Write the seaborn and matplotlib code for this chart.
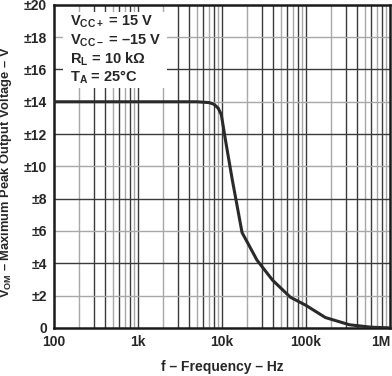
import numpy as np
import pandas as pd
import seaborn as sns
import matplotlib.pyplot as plt

# values
freq_hz = [100, 1000, 5000, 7000, 8000, 9000, 9800, 11000, 13200, 17300,
           20000, 26000, 40000, 65000, 100000, 170000, 330000, 600000, 1000000]
vom_v = [14, 14, 14, 13.95, 13.85, 13.6, 13.2, 11.6, 9.2, 5.9,
         5.3, 4.2, 2.95, 1.9, 1.39, 0.64, 0.19, 0.04, 0]
x_ticks = [100, 1000, 10000, 100000, 1000000]
x_labels = ["100", "1k", "10k", "100k", "1M"]
y_ticks = list(range(0, 22, 2))
y_labels = ["0"] + ["±%d" % v for v in y_ticks[1:]]
conditions = [r"V$_{\mathbf{CC+}}$ = 15 V", r"V$_{\mathbf{CC-}}$ = –15 V",
              r"R$_{\mathbf{L}}$ = 10 k$\mathbf{\Omega}$", r"T$_{\mathbf{A}}$ = 25°C"]

sns.set_style("white")
plt.rcParams["font.family"] = ["Liberation Sans", "DejaVu Sans"]
plt.rcParams["mathtext.fontset"] = "custom"
plt.rcParams["mathtext.rm"] = "Liberation Sans:bold"
plt.rcParams["mathtext.bf"] = "Liberation Sans:bold"
plt.rcParams["mathtext.it"] = "Liberation Sans:bold"

fig = plt.figure(figsize=(3.92, 3.76), dpi=100)
ax = fig.add_axes([0.138, 0.128, 0.857, 0.859])

df = pd.DataFrame({"f": freq_hz, "v": vom_v})

# grid
dark = "#3a3a3a"
light = "#a8a8a8"
minor_dark = {2: False, 3: True, 4: True, 5: False, 6: True, 7: False, 8: True, 9: False}
for dec in [100, 1000, 10000, 100000]:
    for m in range(2, 10):
        ax.axvline(dec * m, color=dark if minor_dark[m] else light, lw=1.0, zorder=1)
    if dec > 100:
        ax.axvline(dec, color=dark, lw=1.0, zorder=1)
for y in y_ticks[1:-1]:
    ax.axhline(y, color=dark if y % 4 == 0 else light, lw=1.0, zorder=1)

sns.lineplot(data=df, x="f", y="v", ax=ax, color="#2a2a2a", lw=2.2, zorder=3)

ax.set_xscale("log")
ax.set_xlim(100, 1000000)
ax.set_ylim(0, 20)
ax.set_xticks(x_ticks)
ax.set_xticklabels(x_labels)
ax.set_yticks(y_ticks)
ax.set_yticklabels(y_labels)
ax.minorticks_off()
ax.tick_params(length=0, labelsize=10, pad=5)
for lab in ax.get_xticklabels() + ax.get_yticklabels():
    lab.set_fontweight("bold")
ax.get_xticklabels()[-1].set_horizontalalignment("right")

for s in ax.spines.values():
    s.set_color("#1a1a1a")
    s.set_linewidth(1.8)

ax.set_xlabel("f – Frequency – Hz", fontsize=10, fontweight="bold", labelpad=8)
ax.set_ylabel(r"V$_{\mathbf{OM}}$ – Maximum Peak Output Voltage – V",
              fontsize=9.3, fontweight="bold")
ax.yaxis.set_label_coords(-0.118, 0.483)

# conditions box covering the grid
ax.axvspan(100 * 10 ** (0.027 * 4), 100 * 10 ** (0.337 * 4), ymin=0.743, ymax=0.978,
           color="white", zorder=2, lw=0)
for i, t in enumerate(conditions):
    ax.text(0.048, 0.947 - i * 0.057, t, transform=ax.transAxes, fontsize=10.5,
            fontweight="bold", va="center", ha="left", zorder=4)

fig.savefig("out.png", dpi=100)
